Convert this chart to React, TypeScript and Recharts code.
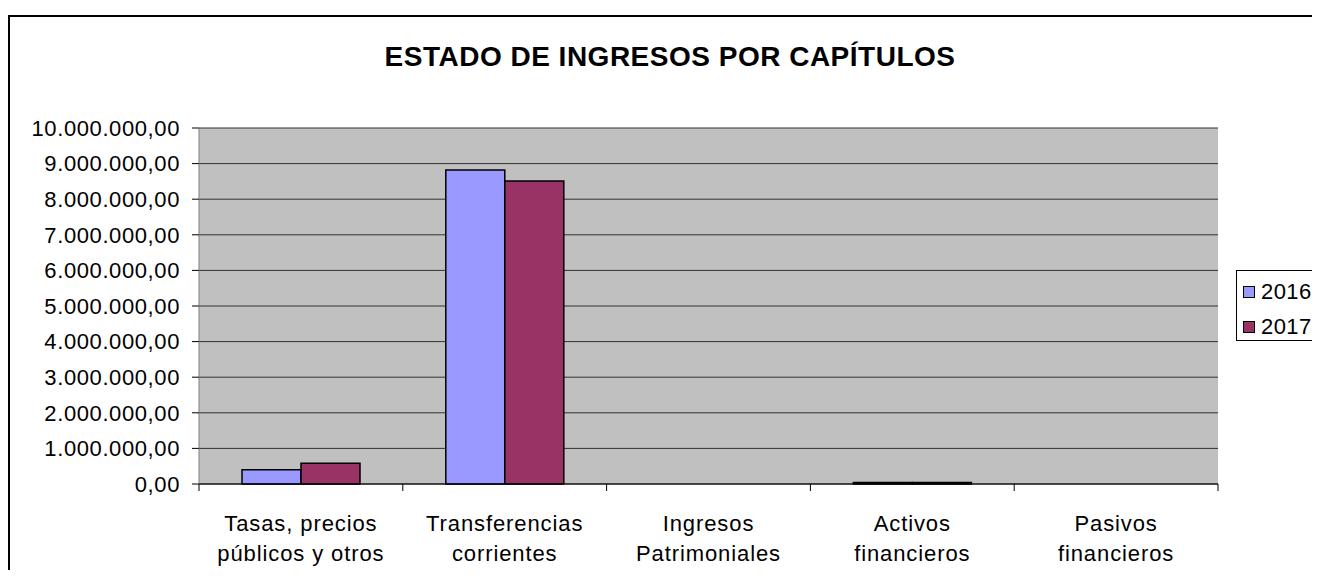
import React from 'react'
import { BarChart, Bar, XAxis, YAxis, CartesianGrid } from 'recharts'

const categories = [
  'Tasas, precios públicos y otros',
  'Transferencias corrientes',
  'Ingresos Patrimoniales',
  'Activos financieros',
  'Pasivos financieros',
]
// how each category label wraps in the reference
const categoryLines = [
  ['Tasas, precios', 'públicos y otros'],
  ['Transferencias', 'corrientes'],
  ['Ingresos', 'Patrimoniales'],
  ['Activos', 'financieros'],
  ['Pasivos', 'financieros'],
]
const seriesNames = ['2016', '2017']
const seriesColors = ['#9999FF', '#993366']
const values2016 = [400000, 8820000, 0, 45000, 0]
const values2017 = [580000, 8510000, 0, 40000, 0]
const yTicks = [0, 1000000, 2000000, 3000000, 4000000, 5000000, 6000000, 7000000, 8000000, 9000000, 10000000]

const data = categories.map((name, i) => ({ name, y2016: values2016[i], y2017: values2017[i] }))

const FONT = '"Liberation Sans", Arial, sans-serif'

// 10000000 -> "10.000.000,00"
const fmt = (v: number) => {
  const int = Math.round(v).toString().replace(/\B(?=(\d{3})+(?!\d))/g, '.')
  return int + ',00'
}

const CategoryTick = (props: any) => {
  const { x, y, payload, index, visibleTicksCount } = props
  const half = payload && payload.offset ? payload.offset : 101.9
  const lines = categoryLines[index] || [payload.value]
  return (
    <g>
      <line x1={x - half} y1={y} x2={x - half} y2={y + 7} stroke="#000" />
      {index === visibleTicksCount - 1 && (
        <line x1={x + half} y1={y} x2={x + half} y2={y + 7} stroke="#000" />
      )}
      <text x={x} y={y} textAnchor="middle" fontFamily={FONT} fontSize={22} fill="#000" letterSpacing={0.9}>
        {lines.map((l, i) => (
          <tspan key={i} x={x} dy={i === 0 ? 47 : 30}>{l}</tspan>
        ))}
      </text>
    </g>
  )
}

export default function App() {
  return (
    <div style={{ position: 'relative', width: 1312, height: 562 }}>
      <div style={{ position: 'absolute', left: 0, top: 7, width: 1312, height: 563, borderTop: '2px solid #000', borderLeft: '2px solid #000', boxSizing: 'border-box' }} />
      <div style={{ position: 'absolute', left: 0, top: 33, width: 1312, paddingLeft: 12, boxSizing: 'border-box', textAlign: 'center', fontFamily: FONT, fontWeight: 700, fontSize: 28, letterSpacing: 0.5, color: '#000' }}>
        ESTADO DE INGRESOS POR CAPÍTULOS
      </div>
      <div style={{ position: 'absolute', left: 0, top: 0 }}>
        <BarChart width={1312} height={562} data={data} barGap={0} barSize={59}
          margin={{ top: 120, right: 102, left: 0, bottom: 0 }}>
          <CartesianGrid fill="#C0C0C0" stroke="#333" vertical={false} horizontalValues={yTicks} />
          <XAxis dataKey="name" height={86} axisLine={{ stroke: '#000' }} tickLine={false}
            tickSize={0} tickMargin={0} interval={0} tick={<CategoryTick />} />
          <YAxis domain={[0, 10000000]} ticks={yTicks} width={191} interval={0}
            axisLine={{ stroke: '#808080' }} tickLine={{ stroke: '#000' }} tickSize={7} tickMargin={12}
            tickFormatter={fmt} tick={{ fontFamily: FONT, fontSize: 22, fill: '#000', letterSpacing: 0.6 }} />
          <YAxis yAxisId="right" orientation="right" width={0} domain={[0, 10000000]}
            axisLine={{ stroke: '#808080', strokeWidth: 1.5 }} tick={false} tickLine={false} />
          <Bar dataKey="y2016" name="2016" fill="#9999FF" stroke="#000" strokeWidth={1.5} isAnimationActive={false} />
          <Bar dataKey="y2017" name="2017" fill="#993366" stroke="#000" strokeWidth={1.5} isAnimationActive={false} />
        </BarChart>
      </div>
      <div style={{ position: 'absolute', left: 1228, top: 262, borderTop: '1px solid #000', borderLeft: '1px solid #000', borderBottom: '1px solid #000', width: 84, height: 71, boxSizing: 'border-box', paddingLeft: 6, paddingTop: 3, background: '#fff', overflow: 'hidden', whiteSpace: 'nowrap' }}>
        {seriesNames.map((label, i) => (
          <div key={label} style={{ display: 'flex', alignItems: 'center', height: 35 }}>
            <span style={{ display: 'inline-block', flex: 'none', width: 10, height: 10, background: seriesColors[i], border: '1.5px solid #000', marginRight: 6 }} />
            <span style={{ fontFamily: FONT, fontSize: 22, letterSpacing: 0.4, color: '#000' }}>{label}</span>
          </div>
        ))}
      </div>
    </div>
  )
}
